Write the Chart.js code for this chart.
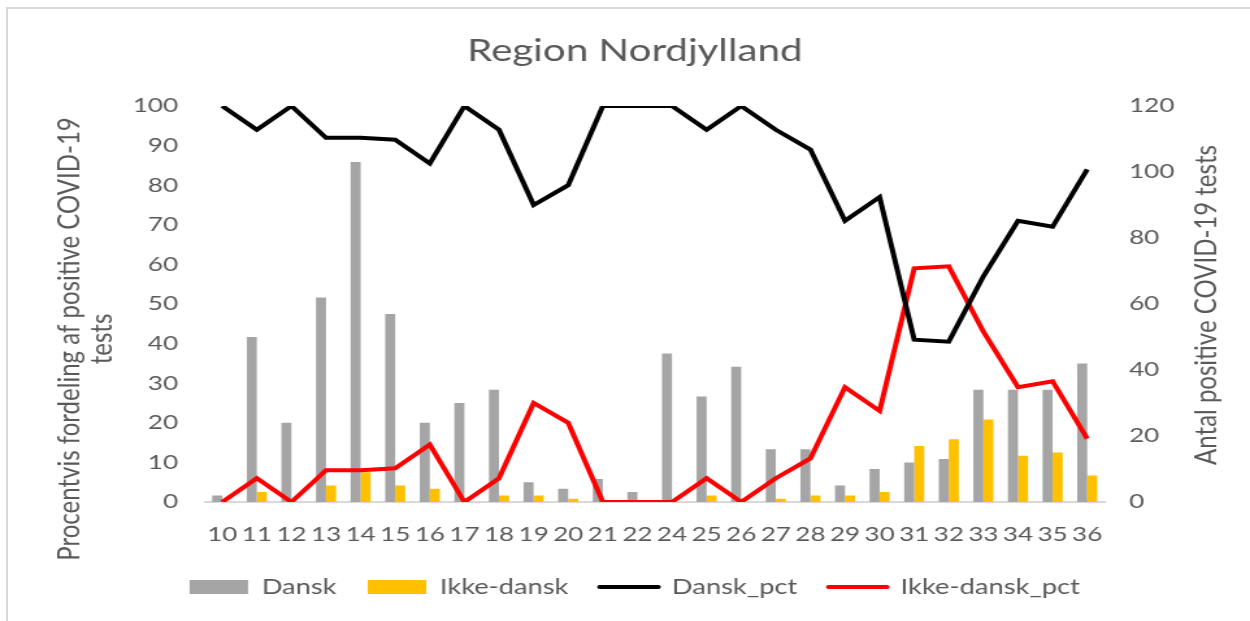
<!DOCTYPE html>
<html lang="da">
<head>
<meta charset="utf-8">
<title>Region Nordjylland</title>
<script src="https://cdn.jsdelivr.net/npm/chart.js@4.4.1/dist/chart.umd.min.js"></script>
<style>
  html, body { margin: 0; padding: 0; background: #fff; overflow: hidden; }
  #stage { position: relative; width: 1250px; height: 621px; overflow: hidden; }
  #frame {
    position: absolute; left: 6px; top: 7px; width: 1300px; height: 700px;
    border-left: 2px solid #d9d9d9; border-top: 2px solid #d9d9d9;
  }
  /* the reference picture is stretched sideways, so the canvas is too */
  #wrap { position: absolute; left: 0; top: 0; transform-origin: 0 0; transform: scaleX(1.2994); }
  canvas { display: block; }
</style>
</head>
<body>
<div id="stage">
  <div id="frame"></div>
  <div id="wrap"><canvas id="chart" width="962" height="621"></canvas></div>
</div>
<script>
const weeks = ["10", "11", "12", "13", "14", "15", "16", "17", "18", "19", "20", "21", "22",
  "24", "25", "26", "27", "28", "29", "30", "31", "32", "33", "34", "35", "36"];

// antal positive tests (right axis)
const dansk = [2, 50, 24, 62, 103, 57, 24, 30, 34, 6, 4, 7, 3,
  45, 32, 41, 16, 16, 5, 10, 12, 13, 34, 34, 34, 42];
const ikkeDansk = [0, 3, 0, 5, 9, 5, 4, 0, 2, 2, 1, 0, 0,
  0, 2, 0, 1, 2, 2, 3, 17, 19, 25, 14, 15, 8];

// procentvis fordeling (left axis)
const danskPct = [100, 94, 100, 92, 92, 91.5, 85.5, 100, 94, 75, 80, 100, 100,
  100, 94, 100, 94, 89, 71, 77, 41, 40.5, 57, 71, 69.5, 84];
const ikkeDanskPct = [0, 6, 0, 8, 8, 8.5, 14.5, 0, 6, 25, 20, 0, 0,
  0, 6, 0, 6, 11, 29, 23, 59, 59.5, 43, 29, 30.5, 16];

const leftTicks = { min: 0, max: 100, step: 10 };
const rightTicks = { min: 0, max: 120, step: 20 };

const leftTitle = ["Procentvis fordeling af positive COVID-19", "tests"];
const rightTitle = ["Antal positive COVID-19 tests"];

const TEXT = "#595959";
const FONT = "Lato";
const GRAY = "#a5a5a5";
const YELLOW = "#ffc000";

Chart.defaults.font.family = FONT;
Chart.defaults.color = TEXT;

// rotated axis titles, read bottom to top on both sides
const axisTitles = {
  id: "axisTitles",
  afterDraw(chart) {
    const ctx = chart.ctx;
    const draw = (lines, x, y, lh) => {
      ctx.save();
      ctx.translate(x, y);
      ctx.rotate(-Math.PI / 2);
      lines.forEach((t, i) => ctx.fillText(t, 0, i * lh));
      ctx.restore();
    };
    ctx.save();
    ctx.fillStyle = TEXT;
    ctx.font = `24px ${FONT}`;
    ctx.textAlign = "center";
    ctx.textBaseline = "middle";
    draw(leftTitle, 53.5, 339, 24.6);
    draw(rightTitle, 928, 305, 0);
    ctx.restore();
  },
};

function legendItems(chart) {
  return chart.data.datasets.map((ds, i) => {
    const isLine = ds.type === "line";
    const color = isLine ? ds.borderColor : ds.backgroundColor;
    return {
      text: ds.label,
      fillStyle: color,
      strokeStyle: color,
      lineWidth: isLine ? 4 : 0,
      lineCap: "round",
      pointStyle: isLine ? "line" : "rect",
      fontColor: TEXT,
      hidden: false,
      datasetIndex: i,
    };
  });
}

const tickFont = { family: FONT, size: 20 };

new Chart(document.getElementById("chart"), {
  data: {
    labels: weeks,
    datasets: [
      {
        type: "bar", label: "Dansk", data: dansk, yAxisID: "y1",
        backgroundColor: GRAY, categoryPercentage: 0.58, barPercentage: 1, order: 2,
      },
      {
        type: "bar", label: "Ikke-dansk", data: ikkeDansk, yAxisID: "y1",
        backgroundColor: YELLOW, categoryPercentage: 0.58, barPercentage: 1, order: 2,
      },
      {
        type: "line", label: "Dansk_pct", data: danskPct, yAxisID: "y",
        borderColor: "#000000", borderWidth: 4, pointRadius: 0, tension: 0, order: 1,
      },
      {
        type: "line", label: "Ikke-dansk_pct", data: ikkeDanskPct, yAxisID: "y",
        borderColor: "#ff0000", borderWidth: 4, pointRadius: 0, tension: 0, order: 1,
      },
    ],
  },
  options: {
    responsive: false,
    animation: false,
    devicePixelRatio: 1,
    layout: { padding: { left: 15, right: 0, top: 0, bottom: 13.5 } },
    plugins: {
      title: {
        display: true,
        text: "Region Nordjylland",
        color: TEXT,
        font: { family: FONT, size: 31, weight: "normal" },
        padding: { top: 32, bottom: 36.8 },
      },
      legend: {
        position: "bottom",
        labels: {
          usePointStyle: true,
          pointStyleWidth: 45,
          boxWidth: 45,
          boxHeight: 14,
          padding: 24,
          color: TEXT,
          font: { family: FONT, size: 21 },
          generateLabels: legendItems,
        },
      },
      tooltip: { enabled: false },
    },
    scales: {
      x: {
        grid: { display: false, drawTicks: false },
        border: { display: true, color: "#d9d9d9", width: 2 },
        ticks: { color: TEXT, font: tickFont, padding: 20.5, maxRotation: 0, autoSkip: false },
        afterFit: (s) => { s.height = 50.5; },
      },
      y: {
        position: "left",
        min: leftTicks.min,
        max: leftTicks.max,
        grid: { display: false, drawTicks: false },
        border: { display: false },
        ticks: { stepSize: leftTicks.step, color: TEXT, font: tickFont, padding: 20.7 },
        afterFit: (s) => { s.width = 142.7; },
      },
      y1: {
        position: "right",
        min: rightTicks.min,
        max: rightTicks.max,
        grid: { display: false, drawTicks: false },
        border: { display: false },
        ticks: { stepSize: rightTicks.step, color: TEXT, font: tickFont, padding: 19 },
        afterFit: (s) => { s.width = 112; },
      },
    },
  },
  plugins: [axisTitles],
});
</script>
</body>
</html>
